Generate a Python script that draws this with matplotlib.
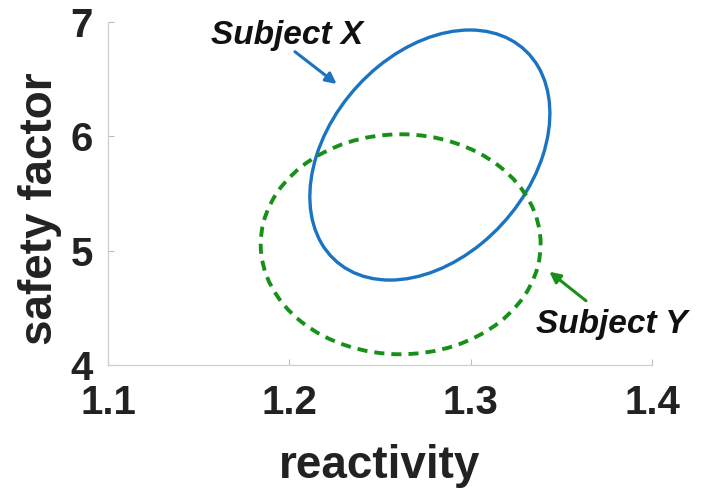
import numpy as np
import matplotlib
matplotlib.use('Agg')
import matplotlib.pyplot as plt
from matplotlib.patches import Ellipse

plt.rcParams['font.family'] = ['Liberation Sans', 'DejaVu Sans']
plt.rcParams['font.weight'] = 'bold'
plt.rcParams['axes.labelweight'] = 'bold'

# ---- data: confidence ellipses per subject (center, spread, correlation) ----
subjects = ['Subject X', 'Subject Y']
center_x = [1.2775, 1.2614]
center_y = [5.8365, 5.056]
spread_x = [0.0662, 0.0772]
spread_y = [1.0935, 0.962]
corr = [0.333, 0.0]
line_colors = ['#1a74c1', '#189018']

xticks = [1.1, 1.2, 1.3, 1.4]
yticks = [4, 5, 6, 7]

# annotation placement (text anchor, arrow tail, arrow tip) in data units
text_pos = [(1.1566, 6.805), (1.336, 4.277)]
arrow_tail = [(1.2031, 6.740), (1.3636, 4.562)]
arrow_tip = [(1.2261, 6.458), (1.3434, 4.816)]


def cov_ellipse(cx, cy, sx, sy, r, **kw):
    cov = np.array([[sx ** 2, r * sx * sy], [r * sx * sy, sy ** 2]])
    vals, vecs = np.linalg.eigh(cov)
    idx = vals.argsort()[::-1]
    vals, vecs = vals[idx], vecs[:, idx]
    angle = np.degrees(np.arctan2(vecs[1, 0], vecs[0, 0]))
    return Ellipse((cx, cy), 2 * np.sqrt(vals[0]), 2 * np.sqrt(vals[1]),
                   angle=angle, fill=False, **kw)


fig = plt.figure(figsize=(7.13, 4.91), dpi=100)
ax = fig.add_axes([0.1515, 0.2566, 0.7629, 0.6986])

styles = [dict(lw=2.4, linestyle='-'),
          dict(lw=2.8, linestyle=(0, (2.6, 1.8)))]

for i in range(len(subjects)):
    e = cov_ellipse(center_x[i], center_y[i], spread_x[i], spread_y[i], corr[i],
                    edgecolor=line_colors[i], **styles[i])
    ax.add_patch(e)
    ax.annotate('', xy=arrow_tip[i], xytext=arrow_tail[i],
                arrowprops=dict(arrowstyle='-|>', color=line_colors[i], lw=2.2,
                                mutation_scale=16, shrinkA=0, shrinkB=0))
    ax.text(text_pos[i][0], text_pos[i][1], subjects[i], fontsize=24,
            fontstyle='italic', fontweight='bold', color='#111111',
            ha='left', va='baseline', clip_on=False)

ax.set_xlim(1.1, 1.4)
ax.set_ylim(4, 7)
ax.set_xticks(xticks)
ax.set_yticks(yticks)
ax.set_xticklabels([f'{v:.1f}' for v in xticks])
ax.set_yticklabels([str(v) for v in yticks])

for s in ['top', 'right']:
    ax.spines[s].set_visible(False)
for s in ['left', 'bottom']:
    ax.spines[s].set_color('#cfcfcf')
    ax.spines[s].set_linewidth(0.9)

ax.tick_params(direction='in', length=4, width=0.8, color='#bdbdbd',
               labelsize=29, labelcolor='#222222')
ax.tick_params(axis='x', pad=14)
ax.tick_params(axis='y', pad=11)

ax.set_xlabel('reactivity', fontsize=33, fontweight='bold', color='#222222', va='baseline')
ax.xaxis.set_label_coords(0.5, -0.329)
ax.set_ylabel('safety factor', fontsize=33, fontweight='bold', color='#222222', va='center')
ax.yaxis.set_label_coords(-0.125, 0.455)

fig.savefig('out.png', dpi=100)
